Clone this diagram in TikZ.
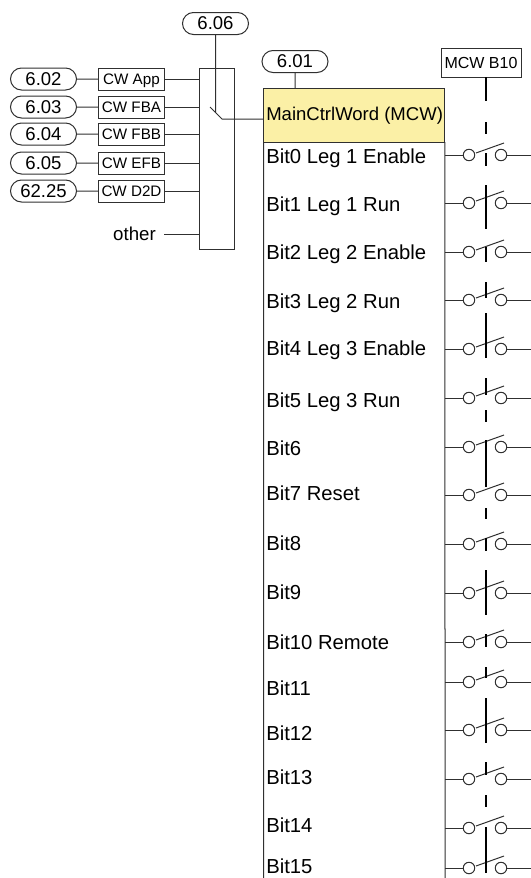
\documentclass[tikz,border=0pt]{standalone}
\usepackage{fontspec}
\setmainfont{Liberation Sans}
\usetikzlibrary{shapes.misc}
\definecolor{mcwyellow}{HTML}{FBF0A6}
\definecolor{wiregray}{HTML}{303030}
\tikzset{
  wire/.style={draw=wiregray,line width=0.75pt},
  ctrlline/.style={draw=black,line width=1.5pt},
  pill/.style={wire,rounded rectangle,minimum width=49.5pt,minimum height=16.5pt,inner sep=0pt,outer sep=0pt,font=\fontsize{13.9}{16}\selectfont},
  srcbox/.style={wire,rectangle,minimum width=50pt,minimum height=16.5pt,inner sep=0pt,outer sep=0pt,text height=8.2pt,text depth=0pt,font=\fontsize{11.4}{14}\selectfont},
  contact/.style={wire,circle,minimum size=8.6pt,inner sep=0pt,outer sep=0pt},
  bitlabel/.style={anchor=base west,inner sep=0pt,font=\fontsize{15.2}{18}\selectfont}
}
% one row of the word: label, wire in, contact, wire out
\newcommand{\bitrow}[4]{
  \node[bitlabel] (t#1) at (266,#3+7) {#4};
  \coordinate (w#1) at (445,#2);
  \coordinate (e#1) at (531,#2);
  \node[contact] (a#1) at (469,#2) {};
  \node[contact] (b#1) at (501,#2) {};
  \coordinate (p#1) at (476,#2-2);
  \coordinate (q#1) at (504,#2-12);
  \draw[wire] (w#1)--(a#1);
  \draw[wire] (b#1)--(e#1);
  \draw[wire] (p#1)--(q#1);
}
\begin{document}
\begin{tikzpicture}[x=0.75pt,y=-0.75pt,line cap=butt,line join=miter]
\useasboundingbox (0,0) rectangle (531,878);

\node[pill] (o606) at (215.5,23.5) {6.06};
\node[pill] (o602) at (43.5,79) {6.02};
\node[pill] (o603) at (43.5,107) {6.03};
\node[pill] (o604) at (43.5,134) {6.04};
\node[pill] (o605) at (43.5,163) {6.05};
\node[pill] (o6225) at (43.5,191) {62.25};
\node[pill] (o601) at (295,61.5) {6.01};

\node[srcbox] (cwapp) at (131.5,79) {CW App};
\node[srcbox] (cwfba) at (131.5,107) {CW FBA};
\node[srcbox] (cwfbb) at (131.5,134) {CW FBB};
\node[srcbox] (cwefb) at (131.5,163) {CW EFB};
\node[srcbox] (cwd2d) at (131.5,191) {CW D2D};
\node[anchor=east,inner sep=0pt,font=\fontsize{14}{16}\selectfont] (other) at (156,234) {other};

\node[wire,rectangle,minimum width=26.25pt,minimum height=135.75pt,inner sep=0pt,outer sep=0pt] (mux) at (216.5,158.5) {};
\node[wire,fill=mcwyellow,rectangle,minimum width=136.1pt,minimum height=40.5pt,inner sep=0pt,outer sep=0pt] (mcw) at (354.25,115) {};
\node[anchor=base west,inner sep=0pt,font=\fontsize{13.9}{16}\selectfont] (mcwtext) at (266,120) {MainCtrlWord (MCW)};
\node[wire,rectangle,minimum width=60pt,minimum height=21.75pt,inner sep=0pt,outer sep=0pt,font=\fontsize{12}{14}\selectfont] (mb10) at (481,62.5) {MCW B10};

\coordinate (sa) at (210,107);   % mux lever
\coordinate (sb) at (222,119);
\coordinate (sc) at (215.5,112.5);
\coordinate (bl) at (263.5,878);
\coordinate (br) at (445,878);
\coordinate (ct) at (486,101);   % first dash under MCW B10

\draw[wire] (o602)--(cwapp);
\draw[wire] (o603)--(cwfba);
\draw[wire] (o604)--(cwfbb);
\draw[wire] (o605)--(cwefb);
\draw[wire] (o6225)--(cwd2d);

\draw[wire] (cwapp)--(cwapp -| mux.west);
\draw[wire] (cwfba)--(cwfba -| mux.west);
\draw[wire] (cwfbb)--(cwfbb -| mux.west);
\draw[wire] (cwefb)--(cwefb -| mux.west);
\draw[wire] (cwd2d)--(cwd2d -| mux.west);
\draw[wire] (164,234)--(other -| mux.west);

\draw[wire] (o606)--(sc);
\draw[wire] (sa)--(sb)--(sb -| mcw.west);
\draw[wire] (o601)--(o601 |- mcw.north);
\draw[wire] (mcw.south west)--(bl);
\draw[wire] (mcw.south east)--(br);

\bitrow{0}{155}{156}{Bit0 Leg 1 Enable}
\bitrow{1}{203}{204}{Bit1 Leg 1 Run}
\bitrow{2}{252}{252}{Bit2 Leg 2 Enable}
\bitrow{3}{300}{301}{Bit3 Leg 2 Run}
\bitrow{4}{349}{348}{Bit4 Leg 3 Enable}
\bitrow{5}{398}{400}{Bit5 Leg 3 Run}
\bitrow{6}{447}{448}{Bit6}
\bitrow{7}{495}{493}{Bit7 Reset}
\bitrow{8}{544}{543}{Bit8}
\bitrow{9}{593}{592}{Bit9}
\bitrow{10}{642}{642}{Bit10 Remote}
\bitrow{11}{682}{688}{Bit11}
\bitrow{12}{730}{733}{Bit12}
\bitrow{13}{779}{777}{Bit13}
\bitrow{14}{828}{825}{Bit14}
\bitrow{15}{868}{866}{Bit15}

\draw[ctrlline] (ct |- mb10.south)--(ct);
\draw[ctrlline] (486,122)--(486,134);
\draw[ctrlline] (486,153)--(486,166);
\draw[ctrlline] (486,185)--(486,229);
\draw[ctrlline] (486,247)--(486,262);
\draw[ctrlline] (486,282)--(486,298);
\draw[ctrlline] (486,313)--(486,358);
\draw[ctrlline] (486,378)--(486,395);
\draw[ctrlline] (486,410)--(486,422);
\draw[ctrlline] (486,440)--(486,487);
\draw[ctrlline] (486,508)--(486,519);
\draw[ctrlline] (486,538)--(486,551);
\draw[ctrlline] (486,570)--(486,615);
\draw[ctrlline] (486,634)--(486,647);
\draw[ctrlline] (486,667)--(486,678);
\draw[ctrlline] (486,698)--(486,743);
\draw[ctrlline] (486,762)--(486,775);
\draw[ctrlline] (486,795)--(486,807);
\draw[ctrlline] (486,827)--(486,873);
\end{tikzpicture}
\end{document}
